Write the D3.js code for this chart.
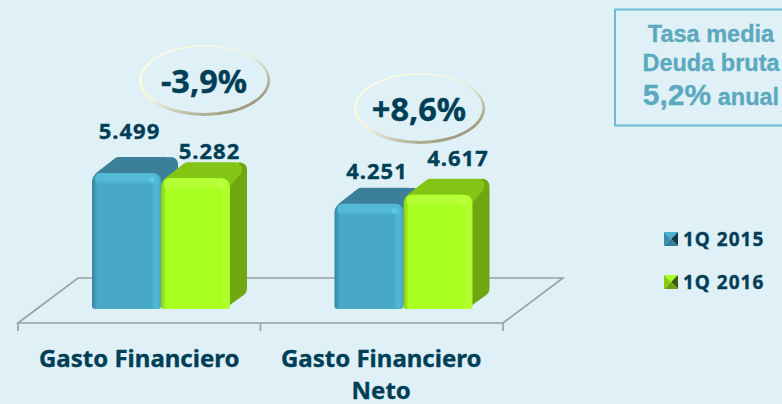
<!DOCTYPE html>
<html>
<head>
<meta charset="utf-8">
<script src="https://cdn.jsdelivr.net/npm/d3@7"></script>
<style>
  html, body { margin: 0; padding: 0; background: #dff0f6; overflow: hidden; }
  text { font-family: "Noto Sans", sans-serif; font-weight: 700; fill: #023f57; stroke: #023f57; stroke-width: 0.35; }
  text.box { font-family: "Liberation Sans", Arial, sans-serif; fill: #5aa9be; stroke: #5aa9be; stroke-width: 0.3; }
</style>
</head>
<body>
<script>
// data
const categories = ["Gasto Financiero", "Gasto Financiero Neto"];
const seriesNames = ["1Q 2015", "1Q 2016"];
const values2015 = [5499, 4251];
const values2016 = [5282, 4617];
const changes = ["-3,9%", "+8,6%"];
const boxLines = ["Tasa media", "Deuda bruta"];
const boxRate = "5,2%";
const boxUnit = " anual";

const width = 782, height = 404;
const bg = "#dff0f6";
const depthX = 17, depthY = 16;

const looks = [
  { front: "#48a9c6", dark: "#37849f", light: "#52bad8", top: "#3c7f99", side: "#39809c", spot: "#5fcdea" },
  { front: "#a9ff20", dark: "#86cc16", light: "#b4ff35", top: "#84c414", side: "#6fa710", spot: "#c4ff4a" }
];

const svg = d3.select("body").append("svg")
  .attr("width", width)
  .attr("height", height)
  .style("display", "block");

svg.append("rect").attr("width", width).attr("height", height).attr("fill", bg);

const defs = svg.append("defs");

// scales
const x0 = d3.scaleBand().domain(categories).range([18, 503]);
const x1 = d3.scaleBand().domain(seriesNames).range([74, 212]);
const y = d3.scaleLinear().domain([0, 5499]).range([309, 173]);

// bevel gradients, one per series
looks.forEach(function(l, i) {
  const h = defs.append("linearGradient").attr("id", "front" + i);
  h.append("stop").attr("offset", "0").attr("stop-color", l.dark);
  h.append("stop").attr("offset", "0.08").attr("stop-color", l.front);
  h.append("stop").attr("offset", "0.86").attr("stop-color", l.front);
  h.append("stop").attr("offset", "0.92").attr("stop-color", l.light);
  h.append("stop").attr("offset", "1").attr("stop-color", l.front);
  const v = defs.append("linearGradient").attr("id", "cap" + i)
    .attr("x1", 0).attr("x2", 0).attr("y1", 0).attr("y2", 1);
  v.append("stop").attr("offset", "0").attr("stop-color", l.light);
  v.append("stop").attr("offset", "0.6").attr("stop-color", l.light);
  v.append("stop").attr("offset", "1").attr("stop-color", l.light).attr("stop-opacity", 0);
});

// ring around the change labels
const ring = defs.append("linearGradient").attr("id", "ring")
  .attr("x1", 0.1).attr("y1", 0.1).attr("x2", 0.85).attr("y2", 0.95);
ring.append("stop").attr("offset", "0").attr("stop-color", "#fffde0");
ring.append("stop").attr("offset", "0.45").attr("stop-color", "#f3f3dc");
ring.append("stop").attr("offset", "0.62").attr("stop-color", "#cfd2bd");
ring.append("stop").attr("offset", "1").attr("stop-color", "#938e6c");

// floor of the chart
const floorFront = y(0) + 14, floorBack = y(0) - 31, floorShift = 60;
const [fx0, fx1] = x0.range();
svg.append("path")
  .attr("d", d3.line()([[fx0, floorFront], [fx0 + floorShift, floorBack], [fx1 + floorShift, floorBack], [fx1, floorFront]]) + "Z")
  .attr("fill", "none")
  .attr("stroke", "#9a9fa3")
  .attr("stroke-width", 1.6);

// ticks sit on the band edges
svg.selectAll(".tick-mark")
  .data(d3.range(categories.length + 1))
  .join("line")
    .attr("class", "tick-mark")
    .attr("x1", d => fx0 + d * x0.step())
    .attr("x2", d => fx0 + d * x0.step())
    .attr("y1", floorFront)
    .attr("y2", floorFront + 8)
    .attr("stroke", "#9a9fa3")
    .attr("stroke-width", 1.6);

// bars
function drawBar(g, bx, bw, v, i) {
  const top = y(v), bottom = y(0), l = looks[i], right = bx + bw;
  // side face, wide round stroke gives the soft corners
  g.append("path")
    .attr("d", d3.line()([[right - 8, top + 7], [right + depthX - 7, top - depthY + 7], [right + depthX - 7, bottom - depthY - 4], [right - 8, bottom - 7]]) + "Z")
    .attr("fill", l.side).attr("stroke", l.side)
    .attr("stroke-width", 14).attr("stroke-linejoin", "round");
  // top face
  g.append("path")
    .attr("d", d3.line()([[bx + 9, top + 5], [bx + 27, top - depthY + 7], [right + depthX - 12, top - depthY + 7], [right - 8, top + 7]]) + "Z")
    .attr("fill", l.top).attr("stroke", l.top)
    .attr("stroke-width", 14).attr("stroke-linejoin", "round");
  // front face, big radius on top and almost square at the foot
  const r = 9, f = 3;
  const p = d3.path();
  p.moveTo(bx, bottom - f);
  p.lineTo(bx, top + r);
  p.quadraticCurveTo(bx, top, bx + r, top);
  p.lineTo(right - r, top);
  p.quadraticCurveTo(right, top, right, top + r);
  p.lineTo(right, bottom - f);
  p.quadraticCurveTo(right, bottom, right - f, bottom);
  p.lineTo(bx + f, bottom);
  p.quadraticCurveTo(bx, bottom, bx, bottom - f);
  p.closePath();
  g.append("path").attr("d", p.toString()).attr("fill", "url(#front" + i + ")");
  g.append("rect")
    .attr("x", bx + 3).attr("y", top).attr("width", bw - 6).attr("height", 12)
    .attr("rx", 6).attr("ry", 6).attr("fill", "url(#cap" + i + ")");
  g.append("circle")
    .attr("cx", right - 9).attr("cy", top + 7).attr("r", 3).attr("fill", l.spot).attr("opacity", 0.8);
}

const seriesValues = [values2015, values2016];
categories.forEach(function(c, ci) {
  const g = svg.append("g");
  seriesNames.forEach(function(s, si) {
    drawBar(g, x0(c) + x1(s), x1.bandwidth(), seriesValues[si][ci], si);
  });
});

// value labels, hand placed above the bars like in the original slide
const fmt = v => d3.format(",")(v).replace(",", ".");
const labelShift = [
  [[3, -34], [8, -25]],
  [[14, -19], [20, -29]]
];
seriesNames.forEach(function(s, si) {
  categories.forEach(function(c, ci) {
    const v = seriesValues[si][ci];
    svg.append("text")
      .attr("x", x0(c) + x1(s) + x1.bandwidth() / 2 + labelShift[si][ci][0])
      .attr("y", y(v) + labelShift[si][ci][1])
      .attr("text-anchor", "middle")
      .attr("font-size", 22)
      .attr("letter-spacing", 1)
      .text(fmt(v));
  });
});

// change bubbles
const bubbleX = [204.5, 419.5], bubbleY = [80.5, 108.5];
changes.forEach(function(t, i) {
  svg.append("ellipse")
    .attr("cx", bubbleX[i]).attr("cy", bubbleY[i]).attr("rx", 65.5).attr("ry", 35.5)
    .attr("fill", "url(#ring)");
  svg.append("ellipse")
    .attr("cx", bubbleX[i] + 0.2).attr("cy", bubbleY[i] - 0.8).attr("rx", 62.8).attr("ry", 33.2)
    .attr("fill", bg);
  svg.append("text")
    .attr("x", bubbleX[i] - 0.5).attr("y", bubbleY[i] + 12)
    .attr("text-anchor", "middle")
    .attr("font-size", 32.5)
    .text(t);
});

// category labels
svg.append("text").attr("x", x0(categories[0]) + x0.step() / 2).attr("y", 367)
  .attr("text-anchor", "middle").attr("font-size", 24).text("Gasto Financiero");
svg.append("text").attr("x", x0(categories[1]) + x0.step() / 2 - 0.5).attr("y", 367)
  .attr("text-anchor", "middle").attr("font-size", 24).text("Gasto Financiero");
svg.append("text").attr("x", x0(categories[1]) + x0.step() / 2 - 0.5).attr("y", 399)
  .attr("text-anchor", "middle").attr("font-size", 24).text("Neto");

// legend
const legendY = d3.scalePoint().domain(seriesNames).range([239, 282]);
// top, right, bottom, left
const swatchLook = [
  ["#4bb4d4", "#14394b", "#2f7f9a", "#3c8cab"],
  ["#a9ff20", "#3c5c08", "#6da40e", "#86cc14"]
];
seriesNames.forEach(function(s, i) {
  const cy = legendY(s), cx = 671, r = 7;
  const corners = [[cx - r, cy - r], [cx + r, cy - r], [cx + r, cy + r], [cx - r, cy + r]];
  corners.forEach(function(p, k) {
    const q = corners[(k + 1) % 4];
    svg.append("path")
      .attr("d", d3.line()([p, q, [cx, cy]]) + "Z")
      .attr("fill", swatchLook[i][k]);
  });
  svg.append("text").attr("x", 683).attr("y", cy + 7)
    .attr("font-size", 19).attr("letter-spacing", 1).text(s);
});

// rate box, runs off the right edge
svg.append("rect")
  .attr("x", 615).attr("y", 9.5).attr("width", 200).attr("height", 116)
  .attr("fill", "none").attr("stroke", "#6cbcd3").attr("stroke-width", 2);
const boxText = (yy, size) => svg.append("text")
  .attr("class", "box")
  .attr("x", 711).attr("y", yy)
  .attr("text-anchor", "middle")
  .attr("font-size", size);
boxText(42, 23.5).text(boxLines[0]);
boxText(71, 23.5).text(boxLines[1]);
const last = boxText(105, 23.5);
last.append("tspan").attr("font-size", 30).text(boxRate);
last.append("tspan").text(boxUnit);
</script>
</body>
</html>
